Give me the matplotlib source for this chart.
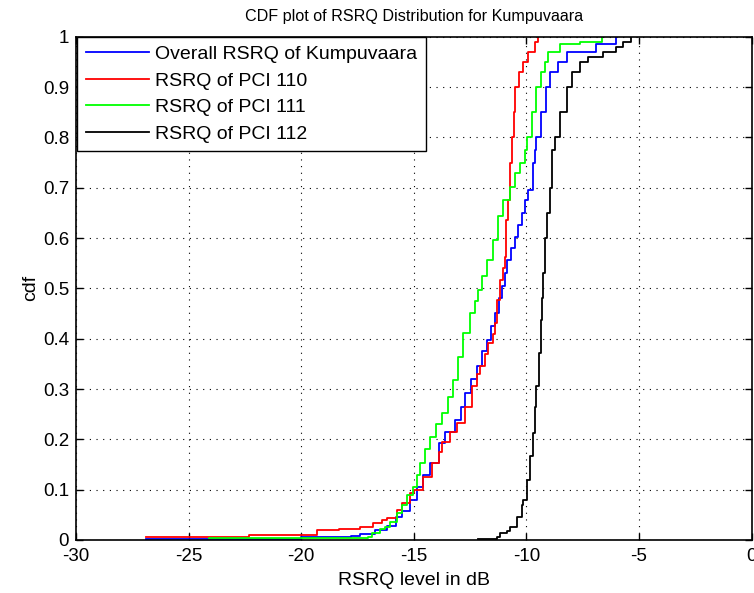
import matplotlib
matplotlib.use("Agg")
import matplotlib.pyplot as plt

plt.rcParams["font.family"] = ["Liberation Sans", "DejaVu Sans"]

# Empirical CDF breakpoints (RSRQ in dB, cumulative probability)
overall_x = [-26.9, -20.0, -17.8, -17.4, -16.7, -16.19, -15.8, -15.53, -15.16, -14.85,
             -14.6, -14.27, -13.9, -13.6, -13.16, -12.9, -12.72, -12.45, -12.2, -11.95,
             -11.76, -11.55, -11.39, -11.2, -11.1, -10.95, -10.88, -10.7, -10.5, -10.35,
             -10.21, -10.05, -9.92, -9.72, -9.62, -9.55, -9.33, -9.13, -8.95, -8.59,
             -8.2, -6.9, -6.0]
overall_y = [0.002, 0.005, 0.008, 0.012, 0.02, 0.028, 0.045, 0.058, 0.08, 0.105,
             0.13, 0.153, 0.193, 0.215, 0.239, 0.265, 0.292, 0.32, 0.345, 0.375,
             0.398, 0.425, 0.451, 0.48, 0.504, 0.53, 0.557, 0.58, 0.603, 0.625,
             0.65, 0.675, 0.696, 0.75, 0.775, 0.8, 0.85, 0.9, 0.93, 0.95,
             0.97, 0.985, 1.0]

pci110_x = [-26.9, -22.3, -19.3, -18.3, -17.4, -16.8, -16.4, -16.2, -15.75, -15.5,
            -15.16, -15.0, -14.57, -14.2, -13.9, -13.75, -13.4, -13.09, -12.72, -12.42,
            -12.2, -12.05, -11.85, -11.69, -11.5, -11.39, -11.32, -11.17, -11.05, -10.95,
            -10.9, -10.8, -10.73, -10.65, -10.55, -10.5, -10.31, -10.13, -9.91, -9.62,
            -9.47]
pci110_y = [0.005, 0.01, 0.02, 0.022, 0.026, 0.034, 0.04, 0.044, 0.06, 0.073,
            0.093, 0.1, 0.126, 0.152, 0.175, 0.195, 0.215, 0.232, 0.265, 0.305,
            0.33, 0.345, 0.37, 0.391, 0.41, 0.431, 0.477, 0.517, 0.54, 0.563,
            0.636, 0.676, 0.75, 0.8, 0.85, 0.9, 0.93, 0.95, 0.97, 0.99,
            1.0]

pci111_x = [-24.1, -17.05, -16.85, -16.5, -16.27, -16.05, -15.73, -15.53, -15.3, -15.05,
            -14.86, -14.71, -14.5, -14.27, -14.0, -13.75, -13.46, -13.27, -13.02, -12.8,
            -12.5, -12.3, -12.13, -11.95, -11.76, -11.47, -11.25, -11.02, -10.73, -10.5,
            -10.28, -10.06, -9.99, -9.77, -9.55, -9.35, -9.18, -9.03, -8.5, -7.6,
            -6.66]
pci111_y = [0.004, 0.006, 0.014, 0.022, 0.026, 0.036, 0.054, 0.07, 0.09, 0.106,
            0.13, 0.152, 0.18, 0.205, 0.23, 0.252, 0.285, 0.318, 0.364, 0.411,
            0.451, 0.475, 0.497, 0.525, 0.557, 0.596, 0.643, 0.676, 0.702, 0.73,
            0.75, 0.775, 0.8, 0.85, 0.9, 0.93, 0.95, 0.97, 0.985, 0.99,
            1.0]

pci112_x = [-12.16, -11.32, -11.17, -10.87, -10.73, -10.43, -10.21, -10.13, -9.96, -9.84,
            -9.72, -9.62, -9.55, -9.43, -9.37, -9.3, -9.25, -9.18, -9.1, -8.95,
            -8.88, -8.84, -8.73, -8.51, -8.21, -7.99, -7.62, -7.25, -6.59, -6.0,
            -5.7, -5.33]
pci112_y = [0.002, 0.005, 0.013, 0.018, 0.026, 0.046, 0.07, 0.08, 0.119, 0.166,
            0.212, 0.265, 0.305, 0.371, 0.437, 0.48, 0.53, 0.6, 0.65, 0.7,
            0.75, 0.775, 0.8, 0.85, 0.9, 0.93, 0.95, 0.96, 0.97, 0.98,
            0.99, 1.0]

labels = ["Overall RSRQ of Kumpuvaara", "RSRQ of PCI 110", "RSRQ of PCI 111", "RSRQ of PCI 112"]
colors = ["#0000ff", "#ff0000", "#00ff00", "#000000"]

x_ticks = [-30, -25, -20, -15, -10, -5, 0]
y_ticks = [0, 0.1, 0.2, 0.3, 0.4, 0.5, 0.6, 0.7, 0.8, 0.9, 1]
y_tick_labels = ["0", "0.1", "0.2", "0.3", "0.4", "0.5", "0.6", "0.7", "0.8", "0.9", "1"]

W, H = 754, 593
fig = plt.figure(figsize=(W / 100, H / 100), dpi=100)
ax = fig.add_axes([76 / W, 1 - 540 / H, (751.5 - 76) / W, (540 - 36.7) / H])

series = [(overall_x, overall_y), (pci110_x, pci110_y), (pci111_x, pci111_y), (pci112_x, pci112_y)]
for (xs, ys), lab, col in zip(series, labels, colors):
    ax.plot(xs, ys, drawstyle="steps-post", color=col, lw=1.3, label=lab)

ax.set_xlim(-30, 0)
ax.set_ylim(0, 1)
ax.set_xticks(x_ticks)
ax.set_xticklabels([str(t) for t in x_ticks])
ax.set_yticks(y_ticks)
ax.set_yticklabels(y_tick_labels)
ax.tick_params(direction="in", length=5, width=1, top=True, right=True, labelsize=13.5)
ax.tick_params(axis="x", pad=5.5)
ax.tick_params(axis="y", pad=5)
ax.grid(True, color="black", linestyle=(0, (1, 5)), linewidth=0.8)
for sp in ax.spines.values():
    sp.set_linewidth(1.2)

ax.set_title("CDF plot of RSRQ Distribution for Kumpuvaara", fontsize=11.6, pad=11)
ax.set_xlabel("RSRQ level in dB", fontsize=14, labelpad=5)
ax.set_ylabel("cdf", fontsize=14, labelpad=3)

leg = ax.legend(loc="upper left", bbox_to_anchor=(0.002, 1.0), borderaxespad=0,
                fontsize=14, frameon=True, fancybox=False, framealpha=1,
                edgecolor="black", handlelength=3.24, handletextpad=0.3,
                labelspacing=0.46, borderpad=0.45)
leg.get_frame().set_linewidth(1.0)

fig.savefig("out.png", dpi=100)
